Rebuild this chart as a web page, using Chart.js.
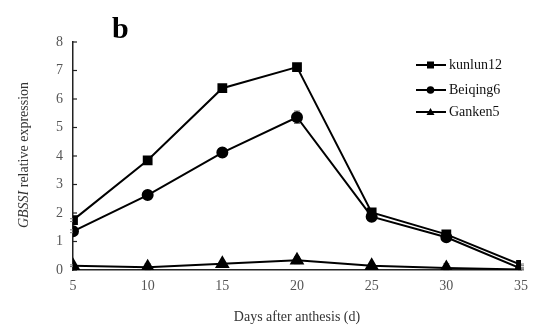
<!DOCTYPE html>
<html>
<head>
<meta charset="utf-8">
<script src="https://cdn.jsdelivr.net/npm/chart.js@4.4.1/dist/chart.umd.min.js"></script>
<style>
  html, body { margin: 0; padding: 0; background: #fff; }
  #wrap { width: 536px; height: 330px; }
</style>
</head>
<body>
<div id="wrap"><canvas id="chart" width="536" height="330"></canvas></div>
<script>
// days after anthesis
const days = [5, 10, 15, 20, 25, 30, 35];

// relative expression per cultivar
const kunlun12 = [1.75, 3.85, 6.38, 7.12, 2.02, 1.25, 0.18];
const beiqing6 = [1.36, 2.63, 4.12, 5.36, 1.87, 1.15, 0.05];
const ganken5 = [0.15, 0.1, 0.22, 0.34, 0.15, 0.07, 0.02];

// standard error bars
const kunlun12Err = [0.05, 0.05, 0.06, 0.06, 0.06, 0.05, 0.03];
const beiqing6Err = [0.05, 0.05, 0.15, 0.22, 0.06, 0.05, 0.03];
const ganken5Err = [0.03, 0.12, 0.05, 0.12, 0.05, 0.15, 0.02];

const yTicks = [0, 1, 2, 3, 4, 5, 6, 7, 8];

const serif = "'Liberation Serif', 'DejaVu Serif', serif";

function toPoints(vals) {
  return vals.map((v, i) => ({ x: days[i], y: v }));
}

// error bars + inward y ticks, drawn from the scales
const decorPlugin = {
  id: "decor",
  beforeDatasetsDraw(chart) {
    const ctx = chart.ctx;
    const xs = chart.scales.x;
    const ys = chart.scales.y;
    const errs = [kunlun12Err, beiqing6Err, ganken5Err];
    ctx.save();
    ctx.strokeStyle = "#777";
    ctx.lineWidth = 1;
    chart.data.datasets.forEach((ds, di) => {
      ds.data.forEach((p, i) => {
        const e = errs[di][i];
        const px = xs.getPixelForValue(p.x);
        const y1 = ys.getPixelForValue(Math.max(0, p.y - e));
        const y2 = ys.getPixelForValue(p.y + e);
        ctx.beginPath();
        ctx.moveTo(px, y1); ctx.lineTo(px, y2);
        ctx.moveTo(px - 3, y1); ctx.lineTo(px + 3, y1);
        ctx.moveTo(px - 3, y2); ctx.lineTo(px + 3, y2);
        ctx.stroke();
      });
    });
    // inward tick marks on y axis
    ctx.strokeStyle = "#222";
    ctx.lineWidth = 1.2;
    yTicks.forEach((t) => {
      const py = ys.getPixelForValue(t);
      ctx.beginPath();
      ctx.moveTo(xs.left, py);
      ctx.lineTo(xs.left + 4, py);
      ctx.stroke();
    });
    ctx.restore();
  },
  afterDraw(chart) {
    const ctx = chart.ctx;
    ctx.save();
    // panel label
    ctx.fillStyle = "#000";
    ctx.font = "bold 30px " + serif;
    ctx.textBaseline = "alphabetic";
    ctx.fillText("b", 112, 38);

    // y title with italic gene name
    ctx.translate(24, 155);
    ctx.rotate(-Math.PI / 2);
    ctx.fillStyle = "#333";
    const part1 = "GBSSI";
    const part2 = " relative expression";
    ctx.font = "italic 14px " + serif;
    const w1 = ctx.measureText(part1).width;
    ctx.font = "14px " + serif;
    const w2 = ctx.measureText(part2).width;
    const start = -(w1 + w2) / 2;
    ctx.textBaseline = "middle";
    ctx.font = "italic 14px " + serif;
    ctx.fillText(part1, start, 0);
    ctx.font = "14px " + serif;
    ctx.fillText(part2, start + w1, 0);
    ctx.restore();

    // legend
    ctx.save();
    const rows = [65, 90, 112];
    chart.data.datasets.forEach((ds, i) => {
      const y = rows[i];
      ctx.strokeStyle = "#000";
      ctx.lineWidth = 2;
      ctx.beginPath();
      ctx.moveTo(416, y); ctx.lineTo(446, y);
      ctx.stroke();
      ctx.fillStyle = "#000";
      if (ds.pointStyle === "rect") {
        ctx.fillRect(427, y - 3.5, 7, 7);
      } else if (ds.pointStyle === "circle") {
        ctx.beginPath(); ctx.arc(430.5, y, 3.8, 0, Math.PI * 2); ctx.fill();
      } else {
        ctx.beginPath();
        ctx.moveTo(430.5, y - 4); ctx.lineTo(434.5, y + 3); ctx.lineTo(426.5, y + 3);
        ctx.closePath(); ctx.fill();
      }
      ctx.font = "14px " + serif;
      ctx.textBaseline = "middle";
      ctx.fillStyle = "#111";
      ctx.fillText(ds.label, 449, y);
    });
    ctx.restore();
  }
};

new Chart(document.getElementById("chart"), {
  type: "line",
  data: {
    datasets: [
      {
        label: "kunlun12",
        data: toPoints(kunlun12),
        borderColor: "#000",
        backgroundColor: "#000",
        borderWidth: 2,
        pointStyle: "rect",
        pointRadius: 5.5,
      },
      {
        label: "Beiqing6",
        data: toPoints(beiqing6),
        borderColor: "#000",
        backgroundColor: "#000",
        borderWidth: 2,
        pointStyle: "circle",
        pointRadius: 5,
      },
      {
        label: "Ganken5",
        data: toPoints(ganken5),
        borderColor: "#000",
        backgroundColor: "#000",
        borderWidth: 2,
        pointStyle: "triangle",
        pointRadius: 6.5,
      },
    ],
  },
  options: {
    responsive: false,
    animation: false,
    layout: { padding: { left: 0, right: 13, top: 42, bottom: 0 } },
    plugins: {
      legend: { display: false },
      tooltip: { enabled: false },
    },
    scales: {
      x: {
        type: "linear",
        min: 5,
        max: 35,
        afterFit: (s) => { s.height = 60; },
        afterBuildTicks: (s) => { s.ticks = days.map((d) => ({ value: d })); },
        ticks: {
          color: "#555",
          font: { family: serif, size: 14 },
          padding: 8,
        },
        grid: { display: false, drawTicks: false },
        border: { color: "#222", width: 1.5 },
        title: {
          display: true,
          text: "Days after anthesis (d)",
          color: "#333",
          font: { family: serif, size: 14 },
          padding: { top: 10 },
        },
      },
      y: {
        min: 0,
        max: 8,
        afterFit: (s) => { s.width = 73; },
        afterBuildTicks: (s) => { s.ticks = yTicks.map((v) => ({ value: v })); },
        ticks: {
          color: "#555",
          font: { family: serif, size: 14 },
          padding: 10,
        },
        grid: { display: false, drawTicks: false },
        border: { color: "#222", width: 1.5 },
      },
    },
  },
  plugins: [decorPlugin],
});
</script>
</body>
</html>
